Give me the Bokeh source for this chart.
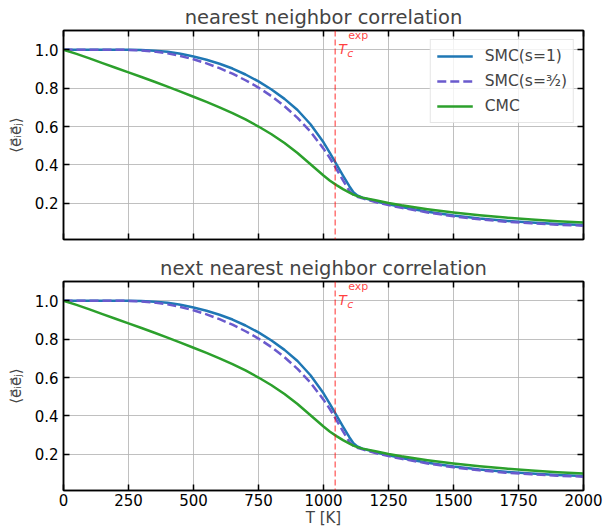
from bokeh.plotting import figure
from bokeh.layouts import column
from bokeh.models import (LinearAxis, FixedTicker, Span, Legend, LegendItem,
                          Range1d, NumeralTickFormatter, CustomJSTickFormatter)
from bokeh.core.properties import value
from bokeh.embed import file_html
from bokeh.resources import INLINE

# ---------------- data ----------------
T = [0, 50, 100, 150, 200, 250, 300, 350, 400, 450, 500, 550, 600, 650, 700,
     750, 800, 850, 900, 950, 1000, 1025, 1050, 1075, 1100, 1115, 1130, 1150,
     1200, 1250, 1300, 1400, 1500, 1600, 1700, 1800, 1900, 2000]
smc_s1 = [1.000, 1.000, 1.000, 1.000, 1.000, 1.000, 0.998, 0.995, 0.989, 0.979,
          0.965, 0.948, 0.927, 0.902, 0.871, 0.835, 0.793, 0.744, 0.686, 0.612,
          0.518, 0.462, 0.403, 0.345, 0.288, 0.258, 0.241, 0.230, 0.211, 0.195,
          0.181, 0.157, 0.137, 0.121, 0.109, 0.100, 0.093, 0.088]
smc_s32 = [1.000, 1.000, 1.000, 1.000, 1.000, 0.999, 0.996, 0.990, 0.981, 0.967,
           0.950, 0.929, 0.904, 0.875, 0.841, 0.803, 0.758, 0.706, 0.645, 0.573,
           0.485, 0.435, 0.378, 0.320, 0.264, 0.244, 0.234, 0.226, 0.207, 0.191,
           0.177, 0.153, 0.133, 0.117, 0.105, 0.096, 0.089, 0.084]
cmc = [1.000, 0.978, 0.955, 0.930, 0.906, 0.882, 0.858, 0.833, 0.808, 0.782,
       0.755, 0.728, 0.700, 0.670, 0.637, 0.600, 0.560, 0.514, 0.462, 0.404,
       0.345, 0.318, 0.295, 0.274, 0.256, 0.246, 0.238, 0.230, 0.216, 0.202,
       0.190, 0.170, 0.153, 0.138, 0.126, 0.116, 0.107, 0.100]
Tc_exp = 1045
x_ticks = [0, 250, 500, 750, 1000, 1250, 1500, 1750, 2000]
y_ticks = [0.2, 0.4, 0.6, 0.8, 1.0]
titles = ["nearest neighbor correlation", "next nearest neighbor correlation"]
labels = ["SMC(s=1)", "SMC(s=\u00b3\u2044\u2082)", "CMC"]

FONT = "DejaVu Sans"
colors = ["#1f77b4", "#6a5acd", "#2ca02c"]
dashes = ["solid", "9 4", "solid"]
series = [smc_s1, smc_s32, cmc]


def base_axis_style(ax):
    ax.major_tick_in = 6
    ax.major_tick_out = 0
    ax.major_tick_line_color = "black"
    ax.major_tick_line_width = 1.5
    ax.minor_tick_line_color = None
    ax.axis_line_color = "black"
    ax.axis_line_width = 1.5
    ax.major_label_text_font = FONT
    ax.major_label_text_font_size = "15px"
    ax.major_label_text_color = "black"
    ax.major_label_standoff = 5


def hide_labels(ax):
    ax.formatter = CustomJSTickFormatter(code="return '';")
    ax.major_label_standoff = 0


def make_fig(idx, show_x):
    p = figure(frame_width=520, frame_height=209,
               x_range=Range1d(0, 2000), y_range=Range1d(0.012, 1.1),
               output_backend="svg", toolbar_location=None,
               min_border_left=63, min_border_right=23,
               min_border_top=30, min_border_bottom=(38 if show_x else 12))
    p.title.text = titles[idx]
    p.title.align = "center"
    p.title.text_font = FONT
    p.title.text_font_size = "19.5px"
    p.title.text_font_style = "normal"
    p.title.standoff = 3
    p.outline_line_color = "black"
    p.outline_line_width = 1.5
    p.background_fill_color = "white"
    p.border_fill_color = "white"

    for ax in p.xaxis:
        ax.ticker = FixedTicker(ticks=x_ticks)
        base_axis_style(ax)
    for ax in p.yaxis:
        ax.ticker = FixedTicker(ticks=y_ticks)
        base_axis_style(ax)
        ax.formatter = NumeralTickFormatter(format="0.0")
    if not show_x:
        for ax in p.xaxis:
            hide_labels(ax)
    else:
        p.xaxis.major_label_standoff = 3
        p.xaxis.axis_label = "T [K]"
        p.xaxis.axis_label_text_font = FONT
        p.xaxis.axis_label_text_font_size = "15px"
        p.xaxis.axis_label_text_font_style = "normal"
        p.xaxis.axis_label_standoff = 0
    p.yaxis.axis_label = "\u27e8e\u20d7\u1d62e\u20d7\u2c7c\u27e9"
    p.yaxis.axis_label_text_font = FONT
    p.yaxis.axis_label_text_font_size = "15px"
    p.yaxis.axis_label_text_font_style = "normal"
    p.yaxis.axis_label_standoff = 7

    # extra axes on top and right with inward ticks, no labels
    top = LinearAxis(ticker=FixedTicker(ticks=x_ticks))
    right = LinearAxis(ticker=FixedTicker(ticks=y_ticks))
    for ax in (top, right):
        base_axis_style(ax)
        hide_labels(ax)
    p.add_layout(top, "above")
    p.add_layout(right, "right")

    p.xgrid.ticker = FixedTicker(ticks=x_ticks)
    p.ygrid.ticker = FixedTicker(ticks=y_ticks)
    p.grid.grid_line_color = "#b0b0b0"
    p.grid.grid_line_width = 1
    p.grid.grid_line_alpha = 0.8

    renderers = []
    for ys, c, d in zip(series, colors, dashes):
        r = p.line(T, ys, line_color=c, line_width=2.5, line_dash=d,
                   line_join="round")
        renderers.append(r)

    p.add_layout(Span(location=Tc_exp, dimension="height", line_color="red",
                      line_alpha=0.55, line_dash="6 3", line_width=1.5))
    p.text(x=[Tc_exp], y=[1.004], text=["T"], text_font=value(FONT),
           text_font_style="italic", text_font_size="14px", text_color="red",
           text_alpha=0.75, x_offset=3, text_baseline="alphabetic")
    p.text(x=[Tc_exp], y=[0.979], text=["c"], text_font=value(FONT),
           text_font_style="italic", text_font_size="11px", text_color="red",
           text_alpha=0.75, x_offset=12, text_baseline="alphabetic")
    p.text(x=[Tc_exp], y=[1.072], text=["exp"], text_font=value(FONT),
           text_font_size="11px", text_color="red",
           text_alpha=0.75, x_offset=13, text_baseline="alphabetic")

    if idx == 0:
        items = [LegendItem(label=l, renderers=[r]) for l, r in zip(labels, renderers)]
        leg = Legend(items=items, location="top_right")
        leg.label_text_font = FONT
        leg.label_text_font_size = "15.5px"
        leg.glyph_width = 36
        leg.glyph_height = 20
        leg.label_standoff = 12
        leg.spacing = 5
        leg.padding = 6
        leg.margin = 9
        leg.border_line_color = "#cccccc"
        leg.border_line_width = 1
        leg.background_fill_alpha = 0.8
        p.add_layout(leg)
    return p


p1 = make_fig(0, False)
p2 = make_fig(1, True)
layout = column(p1, p2, spacing=0)

with open("out.html", "w") as f:
    f.write(file_html(layout, INLINE))
